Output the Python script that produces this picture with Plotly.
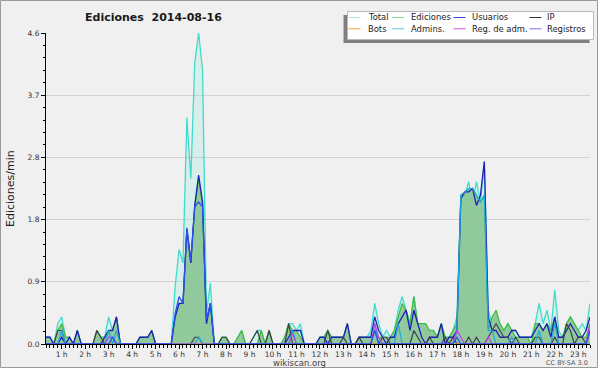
import plotly.graph_objects as go

# time axis: 10-minute samples from 00:20 to 23:30
minutes = [20 + 10 * k for k in range(140)]
hours = [m / 60 for m in minutes]

total = [
    .1, .1, 0, .3, .4, .1, .1, 0, .2, 0,
    0, 0, 0, .2, .1, .1, .4, .2, .4, 0,
    0, 0, 0, 0, .1, .1, .1, .2, 0, 0,
    0, 0, 0, .85, 1.4, 1.2, 3.35, 2.45, 4.15, 4.6,
    4.05, .45, .9, 0, 0, .1, .1, 0, 0, .1,
    .2, 0, 0, .1, .2, .2, 0, .2, 0, 0,
    0, .1, .3, .3, .2, .3, 0, 0, 0, 0,
    .1, .1, .2, .1, .1, .1, .1, .3, 0, 0,
    .1, .1, .1, .2, .6, .3, .1, .2, .1, .2,
    .5, .7, .5, .3, .7, .3, .3, .2, .2, .2,
    .1, .3, .1, .1, .2, .4, 2.2, 2.2, 2.4, 2.1,
    2.4, 2.1, 2.7, .5, .3, .4, .3, .2, .3, .2,
    .2, .1, .1, .1, .1, .3, .6, .3, .5, .2,
    .8, .2, .1, .3, .4, .3, .2, .3, .2, .6,
]
ediciones = [
    .1, .1, 0, .2, .3, .1, .1, 0, .2, 0,
    0, 0, 0, .2, .1, .1, .2, .2, .4, 0,
    0, 0, 0, 0, .1, .1, .1, .2, 0, 0,
    0, 0, 0, .4, .6, .6, 1.7, 1.2, 2.0, 2.45,
    2.05, .3, .6, 0, 0, .1, .1, 0, 0, .1,
    .2, 0, 0, 0, 0, .2, 0, .2, 0, 0,
    0, .1, .3, .2, .2, .1, 0, 0, 0, 0,
    .1, .1, .2, .1, .1, .1, .1, .3, 0, 0,
    .1, .1, .1, .1, .2, .1, .1, .1, .1, .2,
    .4, .6, .5, .3, .7, .3, .3, .3, .2, .2,
    .1, .3, .1, .1, .2, .3, 2.2, 2.25, 2.3, 2.3,
    2.2, 2.1, 2.2, .2, .4, .5, .3, .2, .3, .2,
    .1, .1, .1, .1, 0, .3, .3, .2, .3, .2,
    .4, .1, .1, .3, .4, .3, .2, .1, .1, .3,
]
usuarios = [
    .1, .1, 0, 0, .1, 0, .1, 0, .2, 0,
    0, 0, 0, 0, 0, .1, .2, .2, .4, 0,
    0, 0, 0, 0, .1, .1, .1, .2, 0, 0,
    0, 0, 0, .4, .6, .6, 1.7, 1.2, 2.05, 2.5,
    2.1, .3, .6, 0, 0, 0, 0, 0, 0, 0,
    0, 0, 0, 0, 0, 0, 0, 0, 0, 0,
    0, 0, .1, .2, .2, .2, 0, 0, 0, 0,
    .1, .1, 0, .1, .1, .1, .1, .3, 0, 0,
    .1, .1, .1, .1, .4, .2, .1, 0, .1, .1,
    .3, .4, .5, .2, .5, .3, .1, 0, .1, .1,
    .1, .3, 0, .1, .1, .2, 2.15, 2.25, 2.25, 2.3,
    2.05, 2.2, 2.7, .4, .2, .2, .1, .1, .1, .2,
    .2, .1, .1, .1, .1, .2, .3, .2, .3, .1,
    .4, .1, .1, .2, .3, .2, .1, .1, .2, .4,
]
ip = [
    0, 0, 0, .2, .2, 0, 0, 0, 0, 0,
    0, 0, 0, .2, .1, 0, 0, 0, 0, 0,
    0, 0, 0, 0, 0, 0, 0, 0, 0, 0,
    0, 0, 0, 0, 0, 0, 0, 0, .1, .1,
    0, 0, 0, 0, 0, .1, .1, 0, 0, 0,
    0, 0, 0, .1, .2, 0, 0, .2, 0, 0,
    0, 0, .3, 0, 0, 0, 0, 0, 0, 0,
    0, 0, .2, 0, 0, 0, .1, 0, 0, 0,
    .1, 0, 0, 0, 0, 0, .1, .1, 0, 0,
    0, 0, 0, 0, .2, .1, 0, 0, .1, 0,
    0, 0, .1, 0, .1, 0, 0, 0, .1, 0,
    .1, 0, 0, .1, .2, .3, .2, .1, .1, 0,
    .1, 0, 0, 0, 0, .1, .1, 0, 0, 0,
    .1, 0, 0, .3, .2, 0, .1, .1, 0, .2,
]
bots = [0] * 140
admins = [
    0, 0, 0, 0, .2, 0, 0, 0, 0, 0,
    0, 0, 0, 0, 0, 0, .2, 0, .2, 0,
    0, 0, 0, 0, 0, 0, 0, 0, 0, 0,
    0, 0, 0, 0, 0, 0, 0, 0, 0, .1,
    0, 0, 0, 0, 0, 0, 0, 0, 0, 0,
    0, 0, 0, 0, 0, 0, 0, 0, 0, 0,
    0, 0, 0, .2, 0, 0, 0, 0, 0, 0,
    0, 0, 0, 0, 0, 0, 0, 0, 0, 0,
    0, 0, 0, 0, .3, 0, 0, 0, 0, 0,
    .3, 0, 0, 0, 0, 0, 0, 0, 0, 0,
    0, 0, 0, 0, 0, .2, 2.2, 2.25, 2.3, 2.3,
    2.2, 2.1, 2.2, .2, .2, 0, 0, 0, 0, .1,
    0, 0, 0, 0, 0, 0, .2, 0, 0, 0,
    .3, 0, 0, 0, 0, 0, 0, 0, 0, 0,
]
reg_adm = [
    0, 0, 0, 0, 0, 0, 0, 0, 0, 0,
    0, 0, 0, 0, 0, 0, .1, .1, 0, 0,
    0, 0, 0, 0, 0, 0, 0, 0, 0, 0,
    0, 0, 0, 0, 0, 0, 0, 0, 0, 0,
    0, 0, 0, 0, 0, 0, 0, 0, 0, 0,
    0, 0, 0, 0, 0, 0, 0, 0, 0, 0,
    0, 0, 0, .15, 0, 0, 0, 0, 0, 0,
    0, 0, 0, 0, 0, 0, 0, 0, 0, 0,
    0, 0, 0, 0, .3, .1, 0, 0, 0, 0,
    0, 0, 0, 0, 0, 0, 0, 0, 0, 0,
    0, 0, 0, 0, 0, .2, .1, 0, 0, 0,
    0, 0, 0, .1, 0, 0, 0, 0, 0, 0,
    0, 0, 0, 0, 0, 0, 0, 0, 0, 0,
    0, 0, 0, 0, 0, 0, 0, 0, 0, .3,
]
registros = [
    0, 0, 0, 0, 0, 0, 0, 0, 0, 0,
    0, 0, 0, 0, 0, 0, 0, .1, 0, 0,
    0, 0, 0, 0, 0, 0, 0, 0, 0, 0,
    0, 0, 0, .45, .7, .6, 1.72, 1.24, 2.03, 2.1,
    2.03, .36, .6, 0, 0, 0, 0, 0, 0, 0,
    0, 0, 0, 0, 0, 0, 0, 0, 0, 0,
    0, 0, 0, 0, 0, 0, 0, 0, 0, 0,
    0, 0, 0, 0, 0, 0, 0, 0, 0, 0,
    0, 0, 0, 0, .2, 0, 0, 0, 0, 0,
    0, 0, 0, 0, 0, 0, 0, 0, 0, 0,
    0, 0, 0, 0, 0, .1, 0, 0, 0, 0,
    0, 0, 0, 0, 0, 0, 0, 0, 0, 0,
    0, 0, 0, 0, 0, 0, 0, 0, 0, 0,
    0, 0, 0, 0, 0, 0, 0, 0, 0, .2,
]

hour_ticks = list(range(1, 24))
hour_labels = [f"{h} h" for h in hour_ticks]
y_ticks = [0, 0.92, 1.84, 2.76, 3.68, 4.6]
y_labels = ["0.0", "0.9", "1.8", "2.8", "3.7", "4.6"]

legend_names = [["Total", "Ediciones", "Usuarios", "IP"],
                ["Bots", "Admins.", "Reg. de adm.", "Registros"]]
legend_colors = [["#A8E6E4", "#8FD68F", "#3C3CD8", "#333333"],
                 ["#F0A040", "#55C8E0", "#D050E0", "#7474E8"]]

FONT = "DejaVu Sans"
W, H = 600, 370
L, R, T, B = 46, 10, 33, 26
PW, PH = W - L - R, H - T - B


def px(x):
    return (x - L) / PW


def py(y):
    return (H - B - y) / PH


fig = go.Figure()


def line(y, color, width=1.2, fill=None, fillcolor=None):
    fig.add_trace(go.Scatter(
        x=hours, y=y, mode="lines",
        line=dict(color=color, width=width),
        fill=fill, fillcolor=fillcolor,
        hoverinfo="skip", showlegend=False))


line(total, "#3FDCCB", 1.3, "tozeroy", "rgba(64,224,208,0.14)")
line(ediciones, "#3DBB3D", 1.2, "tozeroy", "rgba(140,198,152,0.95)")
line(usuarios, "#2020B8", 1.3)
line(ip, "#404048", 1.2)
line(bots, "#F0A040", 1.0)
line(admins, "#1EA8E0", 1.2)
line(reg_adm, "#C040E0", 1.2)
line(registros, "#2F4FF0", 1.3)

shapes = []
annotations = []

# page background with border
shapes.append(dict(type="rect", xref="paper", yref="paper", layer="below",
                   x0=px(0.5), x1=px(597.5), y0=py(0.5), y1=py(367.5),
                   fillcolor="#F0F0F0", line=dict(color="#9A9A9A", width=1)))

# legend box
shapes.append(dict(type="rect", xref="paper", yref="paper",
                   x0=px(343.5), x1=px(589.5), y0=py(15), y1=py(43),
                   fillcolor="#808080", line=dict(width=0)))
shapes.append(dict(type="rect", xref="paper", yref="paper",
                   x0=px(347.5), x1=px(593.5), y0=py(11.5), y1=py(39.5),
                   fillcolor="white", line=dict(color="#B8B8B8", width=1)))
col_line = [348.5, 392, 453.5, 529.5]
col_text = [366, 408.5, 469.5, 545]
row_y = [17.5, 28.8]
for r in range(2):
    for c in range(4):
        shapes.append(dict(type="line", xref="paper", yref="paper",
                           x0=px(col_line[c]), x1=px(col_line[c] + 12),
                           y0=py(row_y[r]), y1=py(row_y[r]),
                           line=dict(color=legend_colors[r][c], width=1)))
        annotations.append(dict(xref="paper", yref="paper",
                                x=px(col_text[c]), y=py(row_y[r]),
                                xanchor="left", yanchor="middle",
                                text=legend_names[r][c], showarrow=False,
                                font=dict(family=FONT, size=8.4, color="#222")))

annotations.append(dict(xref="paper", yref="paper", x=px(153.5), y=py(17),
                        xanchor="center", yanchor="middle", showarrow=False,
                        text="<b>Ediciones\u00a0 2014-08-16</b>",
                        font=dict(family=FONT, size=11, color="#1a1a1a")))
annotations.append(dict(xref="paper", yref="paper", x=px(10), y=py(189),
                        xanchor="center", yanchor="middle", showarrow=False,
                        textangle=-90, text="Ediciones/min",
                        font=dict(family=FONT, size=11, color="#222")))
annotations.append(dict(xref="paper", yref="paper", x=px(299), y=py(362.5),
                        xanchor="center", yanchor="middle", showarrow=False,
                        text="wikiscan.org",
                        font=dict(family=FONT, size=8.5, color="#444")))
annotations.append(dict(xref="paper", yref="paper", x=px(590), y=py(363),
                        xanchor="right", yanchor="middle", showarrow=False,
                        text="CC BY-SA 3.0",
                        font=dict(family=FONT, size=6.5, color="#555")))

fig.update_layout(
    width=W, height=H,
    margin=dict(l=L, r=R, t=T, b=B, pad=0),
    paper_bgcolor="white", plot_bgcolor="#EDEEF0",
    shapes=shapes, annotations=annotations,
    showlegend=False,
)
fig.update_xaxes(
    range=[hours[0], hours[-1]], showgrid=False, zeroline=False,
    showline=True, linecolor="black", linewidth=1,
    tickvals=hour_ticks, ticktext=hour_labels,
    ticks="outside", ticklen=4, tickcolor="black", tickwidth=1,
    ticklabelstandoff=-1,
    tickfont=dict(family=FONT, size=7.5, color="#333"),
    minor=dict(dtick=1 / 6, tick0=0, ticks="outside", ticklen=3,
               tickcolor="black", showgrid=False),
)
fig.update_yaxes(
    range=[0, 4.6], showgrid=True, gridcolor="#D2D2D2", gridwidth=1,
    zeroline=False, showline=True, linecolor="black", linewidth=1,
    tickvals=y_ticks, ticktext=y_labels,
    ticks="outside", ticklen=4, tickcolor="black", tickwidth=1,
    tickfont=dict(family=FONT, size=7.5, color="#333"),
    minor=dict(dtick=0.184, tick0=0, ticks="outside", ticklen=2,
               tickcolor="black", showgrid=False),
)

fig.write_html(
    "out.html",
    config={"displayModeBar": False, "staticPlot": True},
    post_script="document.body.style.margin='0';document.body.style.overflow='hidden';",
)
